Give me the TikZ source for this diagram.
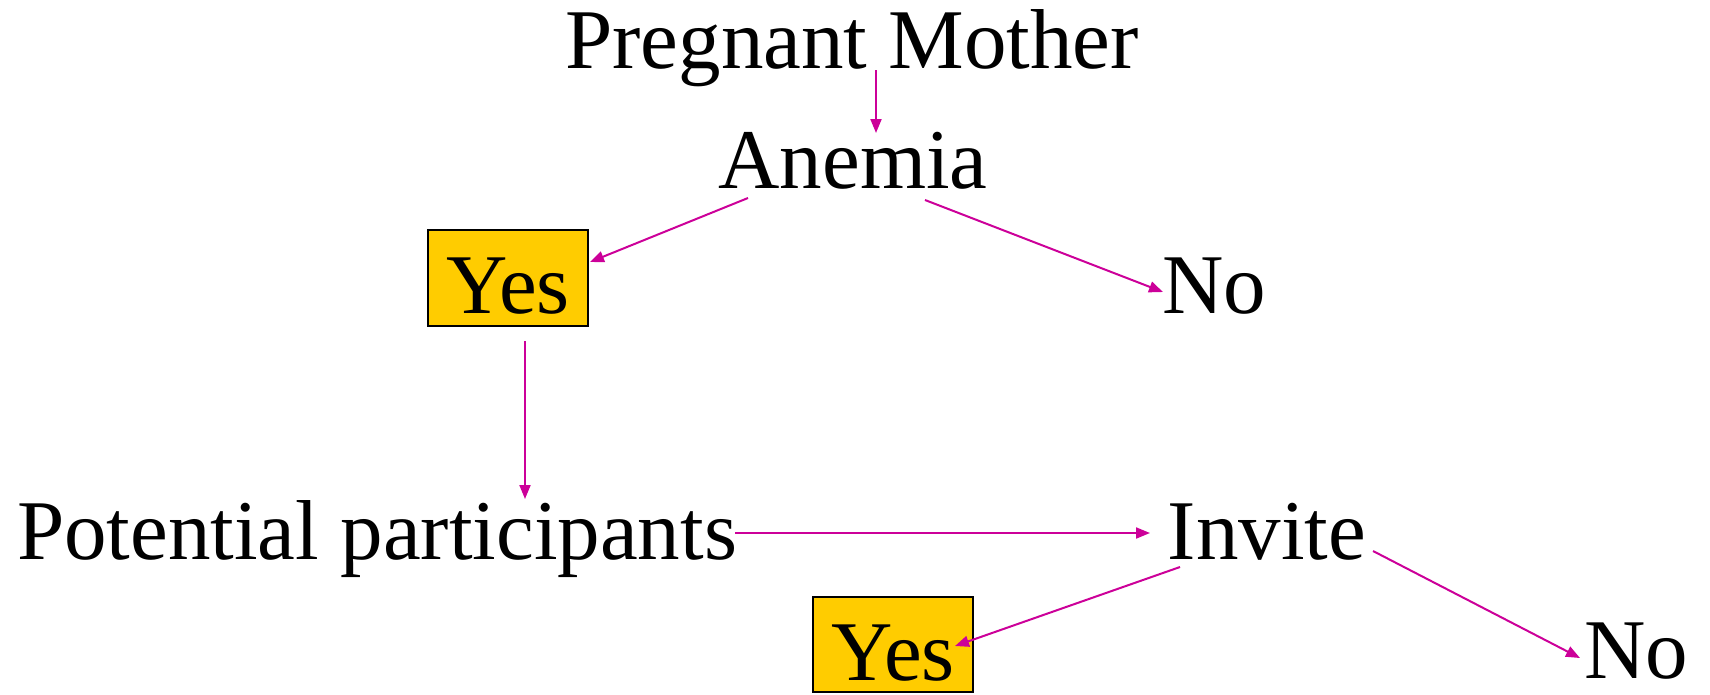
\documentclass[tikz,border=0pt]{standalone}
\usepackage{fontspec}
\setmainfont{Liberation Serif}
\usetikzlibrary{calc,arrows.meta}
\definecolor{arrowmag}{RGB}{204,0,153}
\definecolor{yesfill}{RGB}{255,204,0}
\begin{document}
\begin{tikzpicture}[x=1pt,y=1pt,
  lbl/.style={anchor=base,inner sep=0pt,font=\fontsize{85}{90}\selectfont},
  yesbox/.style={lbl,draw=black,line width=2pt,fill=yesfill,minimum width=160pt,text height=83pt,text depth=13pt},
  arr/.style={draw=arrowmag,line width=2pt,-{Triangle[length=14pt,width=11pt]}}]
\useasboundingbox (0,0) rectangle (1710,-694);
\node[lbl] (pm) at (852,-68) {Pregnant Mother};
\node[lbl] (an) at (853,-188) {Anemia};
\node[yesbox] (yes1) at (508,-313) {Yes\hspace{11pt}};
\node[lbl] (no1) at (1214,-313) {No};
\node[lbl] (pp) at (377,-559) {Potential participants};
\node[lbl] (inv) at (1267,-559) {Invite};
\node[yesbox,text height=83pt,text depth=12pt] (yes2) at (893,-680) {Yes\hspace{20pt}};
\node[lbl] (no2) at (1636,-678) {No};
\draw[arr] ($(pm.base)+(24,-2)$) -- ($(an.base)+(23,55)$);
\draw[arr] ($(an.base)+(-105,-10)$) -- ($(yes1.base)+(82,51)$);
\draw[arr] ($(an.base)+(72,-12)$) -- ($(no1.base)+(-51,21)$);
\draw[arr] ($(yes1.base)+(17,-28)$) -- ($(pp.base)+(148,60)$);
\draw[arr] ($(pp.base)+(358,26)$) -- ($(inv.base)+(-117,26)$);
\draw[arr] ($(inv.base)+(-87,-8)$) -- ($(yes2.base)+(62,34)$);
\draw[arr] ($(inv.base)+(106,8)$) -- ($(no2.base)+(-56,20)$);
\end{tikzpicture}
\end{document}
